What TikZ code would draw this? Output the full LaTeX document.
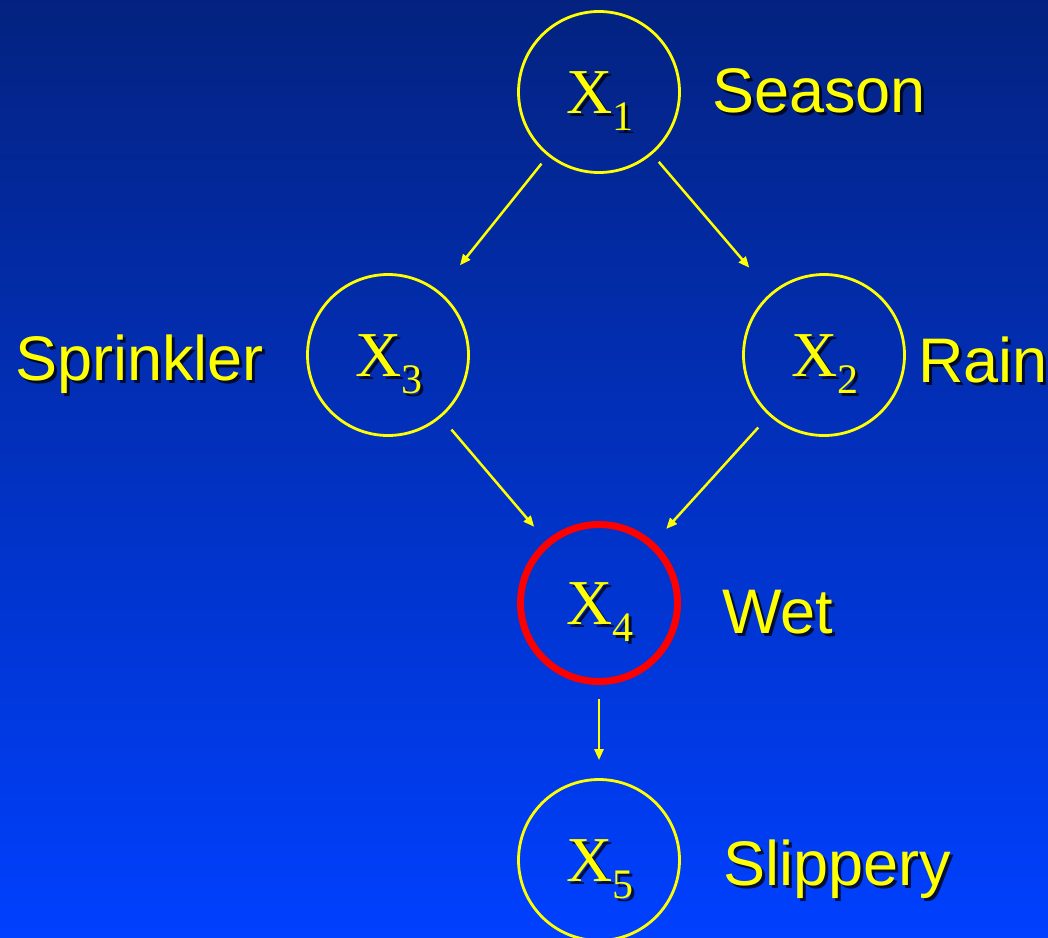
\documentclass[tikz,border=0pt]{standalone}
\usepackage{fontspec}
\setmainfont{Liberation Sans}
\newfontfamily\serifX{Liberation Serif}
\usetikzlibrary{arrows.meta}
\definecolor{bgtop}{RGB}{3,34,128}
\definecolor{bgbot}{RGB}{0,64,255}
\definecolor{yel}{RGB}{255,255,0}
\definecolor{redc}{RGB}{255,0,0}
\newcommand{\xlab}[1]{{\serifX\fontsize{64}{64}\selectfont X\raisebox{-17pt}{\fontsize{42}{42}\selectfont #1}}}
\tikzset{
  var/.style={circle, draw=yel, line width=2.8pt, minimum size=161pt, inner sep=0pt},
  wetvar/.style={circle, draw=redc, line width=7pt, minimum size=157pt, inner sep=0pt},
  xtext/.style={anchor=base west, inner sep=0pt, text=yel},
  xshadow/.style={anchor=base west, inner sep=0pt, text=black, opacity=0.75},
  word/.style={anchor=base west, inner sep=0pt, text=yel, font=\fontsize{63}{63}\selectfont},
  wordshadow/.style={anchor=base west, inner sep=0pt, text=black, opacity=0.75, font=\fontsize{63}{63}\selectfont},
  edge/.style={draw=yel, line width=2.5pt, -{Triangle[length=11pt,width=9pt]}}
}
\begin{document}
\begin{tikzpicture}[x=1pt,y=-1pt]
\shade[top color=bgtop, bottom color=bgbot] (0,0) rectangle (1048,937);
\useasboundingbox (0,0) rectangle (1048,937);
% nodes
\node[var] (x1) at (599,92) {};
\node[var] (x3) at (388,355) {};
\node[var] (x2) at (824,355) {};
\node[wetvar] (x4) at (599,603) {};
\node[var] (x5) at (599,860) {};
% variable labels (shadow + text)
\node[xshadow] (x1s) at (569,116) {\xlab{1}};
\node[xtext] (x1t) at (566,113) {\xlab{1}};
\node[xshadow] (x3s) at (358,379) {\xlab{3}};
\node[xtext] (x3t) at (355,376) {\xlab{3}};
\node[xshadow] (x2s) at (794,379) {\xlab{2}};
\node[xtext] (x2t) at (791,376) {\xlab{2}};
\node[xshadow] (x4s) at (569,627) {\xlab{4}};
\node[xtext] (x4t) at (566,624) {\xlab{4}};
\node[xshadow] (x5s) at (569,884) {\xlab{5}};
\node[xtext] (x5t) at (566,881) {\xlab{5}};
% word labels
\node[wordshadow] (seasons) at (715,115) {Season};
\node[word] (season) at (712,112) {Season};
\node[wordshadow] (sprinklers) at (18,383) {Sprinkler};
\node[word] (sprinkler) at (15,380) {Sprinkler};
\node[wordshadow] (rains) at (921,385) {Rain};
\node[word] (rain) at (918,382) {Rain};
\node[wordshadow] (wets) at (725,636) {Wet};
\node[word] (wet) at (722,633) {Wet};
\node[wordshadow] (slipperys) at (726,888) {Slippery};
\node[word] (slippery) at (723,885) {Slippery};
% edges
\draw[edge, shorten <=10pt, shorten >=33pt] (x1) -- (x3);
\draw[edge, shorten <=10pt, shorten >=33pt] (x1) -- (x2);
\draw[edge, shorten <=16pt, shorten >=18pt] (x3) -- (x4);
\draw[edge, shorten <=16pt, shorten >=18pt] (x2) -- (x4);
\draw[edge, shorten <=14pt, shorten >=18pt] (x4) -- (x5);
\end{tikzpicture}
\end{document}
